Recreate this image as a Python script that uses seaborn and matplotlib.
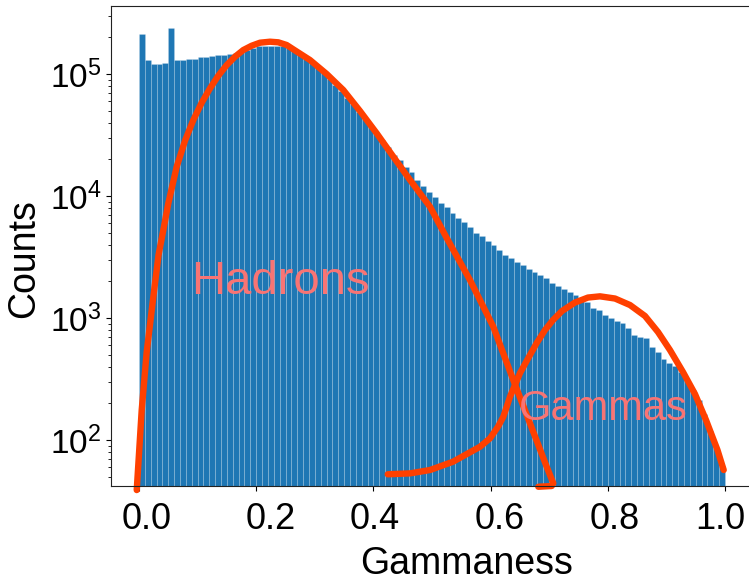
import numpy as np
import pandas as pd
import matplotlib
matplotlib.use("Agg")
import matplotlib.pyplot as plt
import matplotlib.transforms as mtransforms
import seaborn as sns

plt.rcParams['font.family'] = ['Liberation Sans', 'DejaVu Sans']

# ---- data ----
n_bins = 100
bin_lo, bin_hi = 0.0, 1.0
counts = [
    2.13e5, 1.31e5, 1.20e5, 1.21e5, 1.23e5, 2.37e5, 1.31e5, 1.30e5, 1.33e5, 1.34e5,
    1.37e5, 1.39e5, 1.41e5, 1.42e5, 1.44e5, 1.47e5, 1.50e5, 1.52e5, 1.57e5, 1.64e5,
    1.69e5, 1.70e5, 1.71e5, 1.71e5, 1.69e5, 1.64e5, 1.57e5, 1.48e5, 1.37e5, 1.26e5,
    1.15e5, 1.01e5, 9.05e4, 8.12e4, 7.30e4, 6.32e4, 5.65e4, 4.91e4, 4.25e4, 3.75e4,
    3.27e4, 2.88e4, 2.54e4, 2.17e4, 1.97e4, 1.74e4, 1.58e4, 1.35e4, 1.21e4, 1.08e4,
    9760, 8810, 8070, 7210, 6560, 6080, 5600, 5000, 4700, 4300,
    3960, 3610, 3280, 3080, 2890, 2720, 2510, 2400, 2250, 2120,
    1920, 1830, 1720, 1640, 1540, 1460, 1360, 1210, 1160, 1060,
    995, 945, 915, 833, 726, 703, 682, 575, 529, 459,
    430, 404, 363, 310, 257, 213, 165, 118, 86, 61,
]

hadron_x = [-0.0039, 0.0046, 0.0131, 0.0244, 0.0333, 0.0415, 0.0500, 0.0643, 0.0785,
            0.0927, 0.1070, 0.1212, 0.1353, 0.1497, 0.1638, 0.1780, 0.1923, 0.2065,
            0.2235, 0.2377, 0.2520, 0.2633, 0.2918, 0.3203, 0.3486, 0.3771, 0.4056,
            0.4340, 0.4625, 0.4966, 0.5251, 0.5648, 0.6046, 0.6387, 0.6672, 0.6957,
            0.7070, 0.7043, 0.6814]
hadron_y = [38.9, 176.2, 526.3, 1486, 3284, 5263, 8713, 17390, 28400,
            41980, 58200, 76350, 96850, 118500, 138600, 157300, 170600, 180600,
            184000, 181900, 172900, 159400, 130200, 100000, 73950, 49750, 32660,
            21000, 13530, 8170, 4526, 2048, 848.6, 310.3, 137.1, 60.4,
            44.2, 42.0, 41.4]

gamma_x = [0.4244, 0.4625, 0.4966, 0.5358, 0.5819, 0.5990, 0.6126, 0.6217, 0.6275,
           0.6331, 0.6502, 0.6643, 0.6787, 0.6928, 0.7065, 0.7218, 0.7440, 0.7662,
           0.7867, 0.8123, 0.8379, 0.8635, 0.8857, 0.9061, 0.9283, 0.9488, 0.9676,
           0.9872, 0.9978]
gamma_y = [52.4, 53.3, 56.8, 66.4, 88.1, 103.3, 128.5, 155.2, 187.5,
           226.4, 354.1, 470, 624, 797, 963, 1141, 1340, 1472,
           1506, 1445, 1278, 1039, 767.7, 546.6, 360.9, 238.2, 145.9,
           82.8, 56.8]

x_ticks = [0.0, 0.2, 0.4, 0.6, 0.8, 1.0]
x_tick_labels = ["0.0", "0.2", "0.4", "0.6", "0.8", "1.0"]
x_label_shift_px = [7.5, 15, 1.7, 9, 6.7, -5]

# ---- figure ----
W, H = 749, 581
fig = plt.figure(figsize=(W / 100, H / 100), dpi=100)
ax = fig.add_axes([111 / W, (H - 486) / H, 642 / W, 480 / H])

edges = np.linspace(bin_lo, bin_hi, n_bins + 1)
centers = 0.5 * (edges[:-1] + edges[1:])
hist_df = pd.DataFrame({"gammaness": centers, "count": np.asarray(counts, float)})

sns.histplot(data=hist_df, x="gammaness", weights="count", bins=n_bins,
             binrange=(bin_lo, bin_hi), ax=ax,
             color="#1f77b4", alpha=1.0, edgecolor=(1, 1, 1, 0.16), linewidth=0.7)
ax.set_yscale("log")

line_color = "#ff4000"
for xs, ys in ((hadron_x, hadron_y), (gamma_x, gamma_y)):
    sns.lineplot(x=xs, y=ys, sort=False, estimator=None, ax=ax,
                 color=line_color, linewidth=4.6, clip_on=False,
                 solid_capstyle="round", solid_joinstyle="round")

ax.text(0.089, 1580, "Hadrons", color="#f87474", fontsize=34, ha="left", va="baseline")
ax.text(0.648, 147, "Gammas", color="#f87474", fontsize=30, ha="left", va="baseline")

ax.set_xlim(-0.0478, 1.0478)
ax.set_ylim(42.0, 3.61e5)
ax.set_xticks(x_ticks)
ax.set_xticklabels(x_tick_labels)
ax.tick_params(axis="x", which="major", labelsize=26, pad=8)
ax.tick_params(axis="y", which="major", labelsize=24)
for lab, dx in zip(ax.get_xticklabels(), x_label_shift_px):
    lab.set_transform(lab.get_transform() +
                      mtransforms.ScaledTranslation(dx / 100, 0, fig.dpi_scale_trans))

ax.set_xlabel("Gammaness", fontsize=27)
ax.xaxis.set_label_coords(0.554, -0.125)
ax.set_ylabel("Counts", fontsize=27)
ax.yaxis.set_label_coords(-0.1075, 0.473)

for s in ax.spines.values():
    s.set_color("#222222")

fig.savefig("out.png", dpi=100)
